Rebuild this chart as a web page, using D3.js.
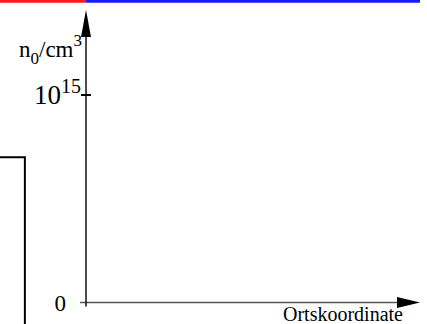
<!DOCTYPE html>
<html>
<head>
<meta charset="utf-8">
<script src="https://cdn.jsdelivr.net/npm/d3@7"></script>
<style>
  body { margin: 0; background: #fff; }
  svg { display: block; }
</style>
</head>
<body>
<script>
// chart data
const yTicks = [0, 1e15];
const yTickBase = ["0", "10"];
const yTickExp = ["", "15"];
const xLabel = "Ortskoordinate";
// step profile left of the axis (x in relative units, y in cm^-3)
const profileX = [-0.3, -0.183, -0.183];
const profileY = [0.7e15, 0.7e15, -0.2e15];
// coloured band at the top
const bandFrom = [-0.3, 0];
const bandTo = [0, 1];
const bandColor = ["#ff1a1a", "#1a1aff"];
const bandLevel = 1.452e15;

const W = 427, H = 324;
const svg = d3.select("body").append("svg")
  .attr("width", W).attr("height", H);

const x = d3.scaleLinear().domain([0, 1]).range([86, 420]);
const y = d3.scaleLinear().domain([0, 1e15]).range([302.5, 95]);

const font = "'Liberation Serif', 'Times New Roman', serif";

// top band
svg.selectAll(".band")
  .data(bandFrom.map((f, i) => ({from: f, to: bandTo[i], c: bandColor[i]})))
  .enter().append("line")
    .attr("x1", d => x(d.from)).attr("x2", d => x(d.to))
    .attr("y1", y(bandLevel)).attr("y2", y(bandLevel))
    .attr("stroke", d => d.c)
    .attr("stroke-width", 3);

// profile step
const line = d3.line().x(d => x(d[0])).y(d => y(d[1]));
svg.append("path")
  .attr("d", line(profileX.map((v, i) => [v, profileY[i]])))
  .attr("fill", "none")
  .attr("stroke", "#000")
  .attr("stroke-width", 2);

// x axis
const x0 = x(0);
svg.append("line")
  .attr("x1", x0 - 6).attr("x2", x(1) - 15)
  .attr("y1", y(0)).attr("y2", y(0))
  .attr("stroke", "#555").attr("stroke-width", 1.4);
svg.append("path")
  .attr("d", `M${x(1)},${y(0)} L${x(1) - 23},${y(0) - 5.5} L${x(1) - 23},${y(0) + 5.5} Z`)
  .attr("fill", "#000");

// y axis
const yTop = 10;
svg.append("line")
  .attr("x1", x0).attr("x2", x0)
  .attr("y1", y(0) + 4).attr("y2", yTop + 20)
  .attr("stroke", "#000").attr("stroke-width", 1.4);
svg.append("path")
  .attr("d", `M${x0},${yTop} L${x0 - 5},${yTop + 27} L${x0 + 5},${yTop + 27} Z`)
  .attr("fill", "#000");

// y ticks
svg.selectAll(".ytick")
  .data(yTicks.filter(d => d !== 0))
  .enter().append("line")
    .attr("x1", x0 - 5).attr("x2", x0 + 5)
    .attr("y1", d => y(d)).attr("y2", d => y(d))
    .attr("stroke", "#000").attr("stroke-width", 2);

const labels = svg.selectAll(".ylab")
  .data(yTicks.map((v, i) => ({v: v, b: yTickBase[i], e: yTickExp[i]})))
  .enter().append("text")
    .attr("font-family", font)
    .attr("fill", "#000")
    .attr("text-anchor", "end")
    .attr("x", d => d.e ? x0 - 5 : x0 - 20)
    .attr("y", d => d.e ? y(d.v) + 9 : y(d.v) + 8)
    .attr("font-size", d => d.e ? "27px" : "23px");
labels.append("tspan").text(d => d.b);
labels.filter(d => d.e).append("tspan")
  .attr("font-size", "20px")
  .attr("dy", -11)
  .text(d => d.e);

// y axis title n0/cm3
const yt = svg.append("text")
  .attr("font-family", font)
  .attr("font-size", "23px")
  .attr("x", 19).attr("y", 57);
yt.append("tspan").text("n");
yt.append("tspan").attr("font-size", "17px").attr("dy", 7).text("0");
yt.append("tspan").attr("dy", -7).text("/cm");
yt.append("tspan").attr("font-size", "17px").attr("dy", -11).text("3");

// x axis title
svg.append("text")
  .attr("font-family", font)
  .attr("font-size", "20px")
  .attr("text-anchor", "end")
  .attr("x", 403).attr("y", 321)
  .text(xLabel);
</script>
</body>
</html>
